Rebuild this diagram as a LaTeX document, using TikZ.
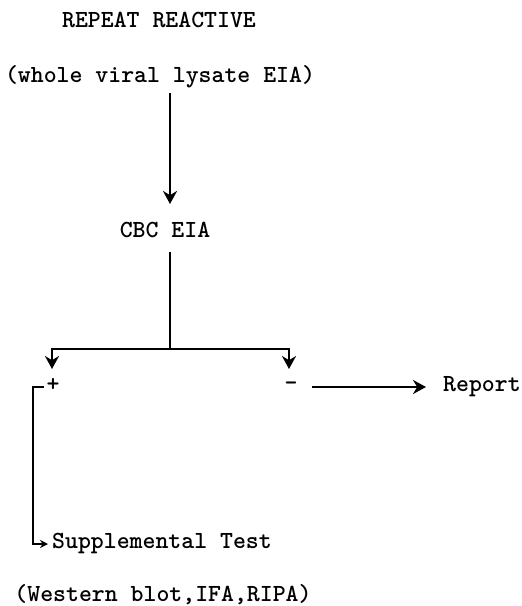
\documentclass[tikz,border=0pt]{standalone}
\usepackage{fontspec}
\usetikzlibrary{arrows.meta}
\begin{document}
\begin{tikzpicture}[x=1pt,y=-1pt,
  txt/.style={inner sep=0pt,font=\ttfamily\bfseries\fontsize{24.6}{27}\selectfont},
  ln/.style={line width=2.3pt},
  arr/.style={ln,-{Stealth[length=13pt,width=14pt]}},
  sarr/.style={ln,-{Stealth[length=8pt,width=8pt]}}]
\useasboundingbox (0,0) rectangle (522,606);
\node[txt] (rr) at (159,20) {REPEAT REACTIVE};
\node[txt] (wv) at (160,77) {(whole viral lysate EIA)};
\node[txt] (cbc) at (165,230) {CBC EIA};
\node[txt] (plus) at (53,385) {+};
\node[txt] (minus) at (291,386) {-};
\node[txt,anchor=west] (rep) at (443,387) {Report};
\node[txt,anchor=west] (sup) at (52,543) {Supplemental Test};
\node[txt] (wb) at (163,595) {(Western blot,IFA,RIPA)};
% connector points
\coordinate (t1) at (170,93);
\coordinate (t2) at (170,204);
\coordinate (t3) at (170,252);
\coordinate (split) at (170,349);
\coordinate (lt) at (52,369);
\coordinate (rt) at (289,369);
\coordinate (b1) at (44,387);
\coordinate (b2) at (33,544);
\coordinate (b3) at (48,544);
\coordinate (r1) at (312,387);
\coordinate (r2) at (426,387);
\draw[arr] (t1) -- (t2);
\draw[ln] (t3) -- (split);
\draw[arr] (split) -| (lt);
\draw[arr] (split) -| (rt);
\draw[sarr] (b1) -| (b2) -- (b3);
\draw[arr] (r1) -- (r2);
\end{tikzpicture}
\end{document}
